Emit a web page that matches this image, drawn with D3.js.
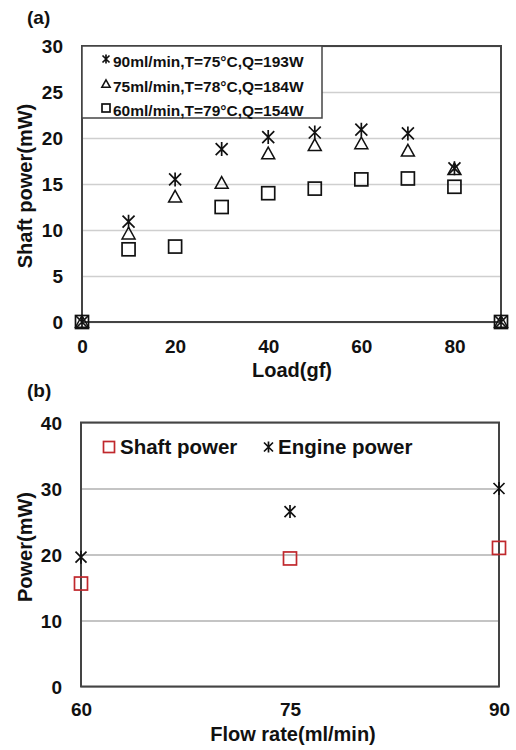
<!DOCTYPE html>
<html><head><meta charset="utf-8">
<script src="https://cdn.jsdelivr.net/npm/d3@7"></script>
<style>
body{margin:0;background:#fff;}
text{font-family:"Liberation Sans",Arial,sans-serif;font-weight:bold;fill:#111;}
</style></head>
<body>
<svg id="c" width="516" height="750"></svg>
<script>
// ---- Data (a) ----
const loadX = [0, 10, 20, 30, 40, 50, 60, 70, 80, 90];
const s90 = [0, 10.9, 15.5, 18.8, 20.1, 20.6, 20.9, 20.5, 16.7, 0];
const s75 = [0, 9.6, 13.6, 15.1, 18.3, 19.2, 19.4, 18.6, 16.6, 0];
const s60 = [0, 7.9, 8.2, 12.5, 14.0, 14.5, 15.5, 15.6, 14.7, 0];
const legendA = ["90ml/min,T=75\u00b0C,Q=193W", "75ml/min,T=78\u00b0C,Q=184W", "60ml/min,T=79\u00b0C,Q=154W"];
const yTicksA = [0, 5, 10, 15, 20, 25, 30];
const xTicksA = [0, 20, 40, 60, 80];
// ---- Data (b) ----
const flowX = [60, 75, 90];
const shaftP = [15.6, 19.4, 21.0];
const engineP = [19.6, 26.5, 30.0];
const yTicksB = [0, 10, 20, 30, 40];
const xTicksB = [60, 75, 90];

const svg = d3.select("#c");

function star(g, x, y, r, color) {
  const p = d3.path();
  p.moveTo(x - r, y - r); p.lineTo(x + r, y + r);
  p.moveTo(x + r, y - r); p.lineTo(x - r, y + r);
  p.moveTo(x, y - r - 1); p.lineTo(x, y + r + 1);
  g.append("path").attr("d", p.toString()).attr("stroke", color).attr("stroke-width", 1.7).attr("fill", "none");
}
function square(g, x, y, h, color) {
  g.append("rect").attr("x", x - h).attr("y", y - h).attr("width", 2 * h).attr("height", 2 * h)
    .attr("fill", "none").attr("stroke", color).attr("stroke-width", 1.7);
}
function tri(g, x, y, h, color) {
  const p = d3.path();
  p.moveTo(x, y - h); p.lineTo(x + h, y + h * 0.8); p.lineTo(x - h, y + h * 0.8); p.closePath();
  g.append("path").attr("d", p.toString()).attr("fill", "none").attr("stroke", color).attr("stroke-width", 1.5);
}

// ---------- Chart (a) ----------
{
  const L = 82, R = 501, T = 46, B = 322;
  const x = d3.scaleLinear().domain([0, 90]).range([L, R]);
  const y = d3.scaleLinear().domain([0, 30]).range([B, T]);
  const g = svg.append("g");
  g.append("g").attr("transform", `translate(${L},0)`)
    .call(d3.axisLeft(y).tickValues(yTicksA).tickSize(-(R - L)).tickFormat(""))
    .call(a => a.select(".domain").remove())
    .call(a => a.selectAll("line").attr("stroke", "#cfcfcf").attr("stroke-width", 1.5));
  g.append("g").attr("transform", `translate(${L},0)`)
    .call(d3.axisLeft(y).tickValues(yTicksA).tickSize(0).tickPadding(19))
    .call(a => a.select(".domain").remove())
    .call(a => a.selectAll("text").attr("font-size", 19).attr("dy", "0.35em"));
  g.append("g").attr("transform", `translate(0,${B})`)
    .call(d3.axisBottom(x).tickValues(xTicksA).tickSize(0).tickPadding(18))
    .call(a => a.select(".domain").remove())
    .call(a => a.selectAll("text").attr("font-size", 19));
  g.append("rect").attr("x", L).attr("y", T).attr("width", R - L).attr("height", B - T)
    .attr("fill", "none").attr("stroke", "#444").attr("stroke-width", 2);
  // legend box
  g.append("rect").attr("x", L).attr("y", T).attr("width", 240).attr("height", 72)
    .attr("fill", "#fff").attr("stroke", "#444").attr("stroke-width", 1.5);
  const ly = [67, 92, 116];
  star(g, 106, 59, 3.5, "#111");
  tri(g, 106, 84, 4.2, "#111");
  square(g, 106, 108, 4, "#111");
  legendA.forEach((t, i) => {
    g.append("text").attr("x", 113).attr("y", ly[i]).attr("font-size", 15.5).text(t);
  });
  loadX.forEach((v, i) => {
    square(g, x(v), y(s60[i]), 6.5, "#111");
    tri(g, x(v), y(s75[i]), 6.5, "#111");
    star(g, x(v), y(s90[i]), 6, "#111");
  });
  svg.append("text").attr("x", 27).attr("y", 24).attr("font-size", 19).text("(a)");
  svg.append("text").attr("transform", `translate(32,186) rotate(-90)`).attr("text-anchor", "middle")
    .attr("font-size", 20).text("Shaft power(mW)");
  svg.append("text").attr("x", 292).attr("y", 377).attr("text-anchor", "middle").attr("font-size", 20).text("Load(gf)");
}

// ---------- Chart (b) ----------
{
  const L = 81, R = 499, T = 422.5, B = 686.5;
  const x = d3.scaleLinear().domain([60, 90]).range([L, R]);
  const y = d3.scaleLinear().domain([0, 40]).range([B, T]);
  const g = svg.append("g");
  g.append("g").attr("transform", `translate(${L},0)`)
    .call(d3.axisLeft(y).tickValues(yTicksB).tickSize(-(R - L)).tickFormat(""))
    .call(a => a.select(".domain").remove())
    .call(a => a.selectAll("line").attr("stroke", "#8a8a8a").attr("stroke-width", 1.2));
  g.append("g").attr("transform", `translate(${L},0)`)
    .call(d3.axisLeft(y).tickValues(yTicksB).tickSize(0).tickPadding(19))
    .call(a => a.select(".domain").remove())
    .call(a => a.selectAll("text").attr("font-size", 19).attr("dy", "0.35em"));
  g.append("g").attr("transform", `translate(0,${B})`)
    .call(d3.axisBottom(x).tickValues(xTicksB).tickSize(0).tickPadding(16.5))
    .call(a => a.select(".domain").remove())
    .call(a => a.selectAll("text").attr("font-size", 19));
  g.append("rect").attr("x", L).attr("y", T).attr("width", R - L).attr("height", B - T)
    .attr("fill", "none").attr("stroke", "#444").attr("stroke-width", 2);
  // legend
  square(g, 109, 447, 5.5, "#c0282d");
  g.append("text").attr("x", 120).attr("y", 454).attr("font-size", 20.5).text("Shaft power");
  star(g, 268.5, 447, 4.5, "#111");
  g.append("text").attr("x", 278).attr("y", 454).attr("font-size", 20.5).text("Engine power");
  flowX.forEach((v, i) => {
    square(g, x(v), y(shaftP[i]), 6.5, "#c0282d");
    star(g, x(v), y(engineP[i]), 5.5, "#111");
  });
  svg.append("text").attr("x", 27).attr("y", 397).attr("font-size", 19).text("(b)");
  svg.append("text").attr("transform", `translate(32,547) rotate(-90)`).attr("text-anchor", "middle")
    .attr("font-size", 20).text("Power(mW)");
  svg.append("text").attr("x", 293).attr("y", 741).attr("text-anchor", "middle").attr("font-size", 20).text("Flow rate(ml/min)");
}
</script>
</body></html>
